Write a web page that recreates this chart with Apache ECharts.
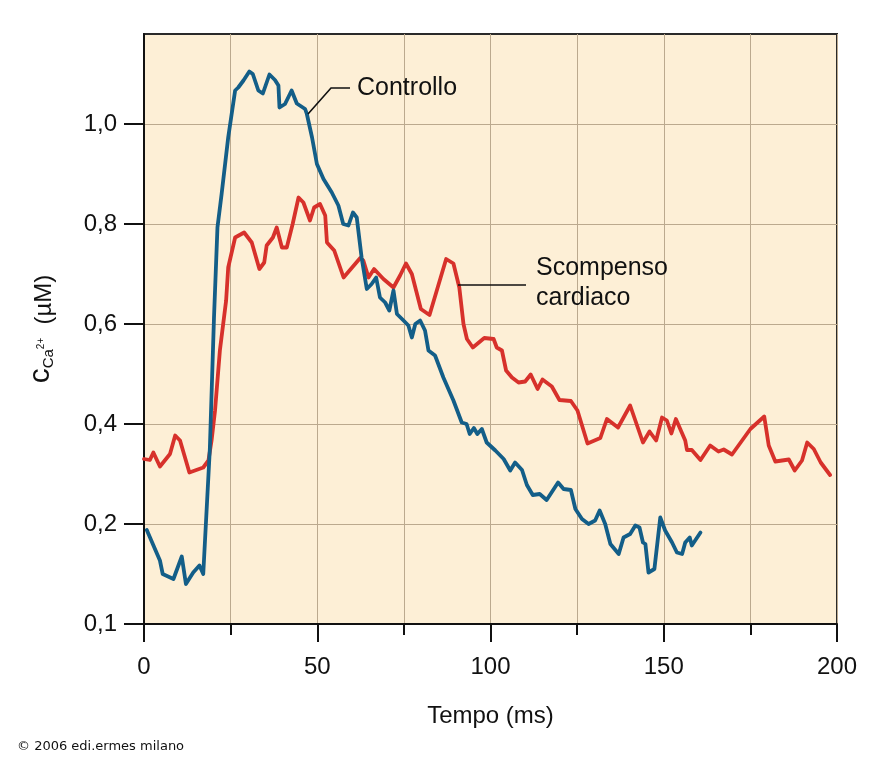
<!DOCTYPE html>
<html><head><meta charset="utf-8">
<script src="https://cdn.jsdelivr.net/npm/echarts@6/dist/echarts.min.js"></script>
<style>html,body{margin:0;padding:0;background:#fff}#c{width:886px;height:761px}</style>
</head><body><div id="c"></div>
<script>
// Tick positions and labels
const xTickValues = [0, 50, 100, 150, 200];
const yTickValues = [0, 0.2, 0.4, 0.6, 0.8, 1.0];
const yTickLabels = ['0,1', '0,2', '0,4', '0,6', '0,8', '1,0'];

// Series: [time (ms), concentration (µM)]
const controllo = [
  [0.8,0.188],[4.6,0.127],[5.4,0.100],[8.5,0.090],[10.9,0.135],[12.1,0.080],[14.2,0.103],[16.0,0.117],[17.1,0.100],
  [19.0,0.35],[20.2,0.613],[21.2,0.793],[22.4,0.86],[24.3,0.973],[26.3,1.067],[27.2,1.073],[28.7,1.087],[30.4,1.105],
  [31.4,1.10],[33.0,1.067],[34.3,1.061],[36.2,1.099],[37.8,1.088],[38.8,1.077],[39.1,1.033],[40.7,1.04],[42.6,1.067],
  [44.1,1.041],[46.5,1.03],[47.0,1.02],[48.5,0.973],[49.9,0.92],[51.8,0.89],[54.2,0.863],[56.1,0.837],[57.5,0.80],
  [59.0,0.797],[60.3,0.823],[61.4,0.813],[62.8,0.733],[64.3,0.67],[65.7,0.68],[67.0,0.693],[68.1,0.653],[69.6,0.643],
  [70.8,0.627],[72.0,0.667],[73.0,0.62],[74.9,0.607],[76.3,0.597],[77.3,0.573],[78.3,0.60],[79.7,0.607],[81.1,0.587],
  [82.1,0.547],[84.0,0.537],[86.4,0.493],[89.3,0.447],[91.7,0.403],[93.1,0.40],[94.0,0.38],[95.2,0.392],[96.2,0.38],
  [97.5,0.39],[98.9,0.363],[101.4,0.347],[103.8,0.33],[105.7,0.307],[107.1,0.323],[109.1,0.308],[110.5,0.278],
  [112.2,0.258],[114.2,0.26],[116.2,0.248],[119.5,0.283],[121.1,0.27],[123.2,0.268],[124.5,0.23],[126.4,0.21],
  [128.3,0.20],[130.2,0.207],[131.5,0.227],[133.1,0.20],[134.6,0.16],[137.0,0.14],[138.4,0.173],[140.3,0.18],
  [141.8,0.197],[143.0,0.193],[144.0,0.163],[144.7,0.16],[145.6,0.103],[146.1,0.10],[147.3,0.11],[149.0,0.213],
  [150.4,0.187],[152.4,0.163],[153.8,0.143],[155.3,0.14],[156.2,0.163],[157.5,0.173],[158.1,0.157],[160.6,0.183]
];
const scompenso = [
  [0,0.33],[1.7,0.328],[2.7,0.343],[4.6,0.315],[7.5,0.34],[9.0,0.377],[10.4,0.367],[13.1,0.303],[17.1,0.313],
  [18.6,0.327],[19.5,0.367],[20.5,0.427],[21.9,0.547],[23.7,0.647],[24.3,0.713],[26.3,0.773],[28.9,0.783],[31.1,0.763],
  [33.3,0.71],[34.7,0.723],[35.4,0.757],[37.2,0.773],[38.3,0.793],[39.8,0.753],[41.2,0.753],[42.9,0.80],[44.6,0.853],
  [46.0,0.843],[47.9,0.807],[49.1,0.833],[50.8,0.84],[52.3,0.817],[52.8,0.763],[54.9,0.747],[57.6,0.693],[62.4,0.732],
  [63.3,0.727],[64.8,0.693],[66.4,0.71],[69.1,0.69],[72.0,0.673],[73.9,0.697],[75.6,0.721],[77.3,0.70],[79.9,0.63],
  [82.4,0.618],[87.2,0.73],[89.3,0.721],[91.0,0.673],[92.2,0.60],[93.2,0.57],[94.9,0.553],[98.2,0.572],[100.9,0.57],
  [101.8,0.553],[103.3,0.547],[104.5,0.507],[106.2,0.493],[108.1,0.483],[110.0,0.485],[111.6,0.499],[113.6,0.47],
  [115.0,0.489],[117.7,0.475],[119.9,0.448],[123.2,0.446],[125.1,0.427],[128.0,0.361],[131.7,0.372],[133.6,0.41],
  [136.8,0.393],[140.3,0.437],[144.0,0.363],[145.9,0.385],[147.8,0.367],[149.5,0.413],[150.9,0.407],[152.2,0.381],
  [153.5,0.41],[156.2,0.367],[156.7,0.348],[158.1,0.348],[160.6,0.328],[163.4,0.357],[165.8,0.345],[167.3,0.349],
  [169.7,0.339],[175.0,0.39],[179.0,0.415],[180.3,0.357],[182.2,0.325],[186.1,0.329],[187.8,0.307],[189.9,0.327],
  [191.4,0.363],[193.3,0.35],[195.3,0.323],[198.0,0.298]
];

const FONT = '"Liberation Sans", Arial, sans-serif';
const gridColor = '#bba98e';
const chart = echarts.init(document.getElementById('c'), null, {renderer: 'canvas'});
chart.setOption({
  animation: false,
  backgroundColor: '#ffffff',
  grid: {left: 144, top: 34, right: 49, bottom: 137, show: true,
         backgroundColor: '#fdefd6', borderColor: '#2a2a2a', borderWidth: 2},
  xAxis: {
    type: 'value', min: 0, max: 200, interval: 50,
    name: 'Tempo (ms)', nameLocation: 'middle', nameGap: 80,
    nameTextStyle: {fontFamily: FONT, fontSize: 24, color: '#111'},
    axisLine: {show: true, lineStyle: {color: '#111', width: 2}},
    axisTick: {show: true, length: 18, lineStyle: {color: '#111', width: 2}},
    minorTick: {show: true, splitNumber: 2, length: 11, lineStyle: {color: '#111', width: 2}},
    splitLine: {show: true, lineStyle: {color: gridColor, width: 1}},
    minorSplitLine: {show: true, lineStyle: {color: gridColor, width: 1}},
    axisLabel: {fontFamily: FONT, fontSize: 24, color: '#111', margin: 31,
                customValues: xTickValues, formatter: v => String(v)}
  },
  yAxis: {
    type: 'value', min: 0, max: 1.18,
    name: '{c|c}{s|Ca}{p|2+}{u|  (µM)}', nameLocation: 'middle', nameRotate: 90, nameGap: 88,
    nameTextStyle: {color: '#111', rich: {
      c: {fontFamily: FONT, fontSize: 30, color: '#111', verticalAlign: 'bottom'},
      s: {fontFamily: FONT, fontSize: 15, color: '#111', verticalAlign: 'bottom'},
      p: {fontFamily: FONT, fontSize: 10, color: '#111', verticalAlign: 'middle'},
      u: {fontFamily: FONT, fontSize: 24, color: '#111', verticalAlign: 'bottom'}
    }},
    axisLine: {show: true, lineStyle: {color: '#111', width: 2}},
    axisTick: {show: true, length: 20, customValues: yTickValues, lineStyle: {color: '#111', width: 2}},
    splitLine: {show: true, lineStyle: {color: gridColor, width: 1}},
    axisLabel: {fontFamily: FONT, fontSize: 24, color: '#111', margin: 27,
                customValues: yTickValues,
                formatter: v => { const i = yTickValues.findIndex(t => Math.abs(t - v) < 1e-6); return i >= 0 ? yTickLabels[i] : ''; }}
  },
  series: [
    {name: 'Scompenso cardiaco', type: 'line', data: scompenso, showSymbol: false, z: 3,
     lineStyle: {color: '#d7312b', width: 3.8, join: 'round', cap: 'round'}},
    {name: 'Controllo', type: 'line', data: controllo, showSymbol: false, z: 4,
     lineStyle: {color: '#135e88', width: 3.8, join: 'round', cap: 'round'}}
  ],
  graphic: [
    {type: 'polyline', z: 10, shape: {points: [[308, 114], [331, 88], [350, 88]]},
     style: {stroke: '#111', lineWidth: 1.6, fill: null}},
    {type: 'text', z: 10, x: 357, y: 88,
     style: {text: 'Controllo', font: '25px ' + FONT, fill: '#111', verticalAlign: 'middle', align: 'left'}},
    {type: 'line', z: 10, shape: {x1: 458, y1: 285, x2: 526, y2: 285},
     style: {stroke: '#111', lineWidth: 1.6}},
    {type: 'text', z: 10, x: 536, y: 283,
     style: {text: 'Scompenso\ncardiaco', font: '25px ' + FONT, lineHeight: 30, fill: '#111', verticalAlign: 'middle', align: 'left'}},
    {type: 'text', z: 10, x: 17, y: 747,
     style: {text: '© 2006 edi.ermes milano', font: '13px "DejaVu Sans", sans-serif', fill: '#111', verticalAlign: 'middle', align: 'left'}}
  ]
});
</script></body></html>
